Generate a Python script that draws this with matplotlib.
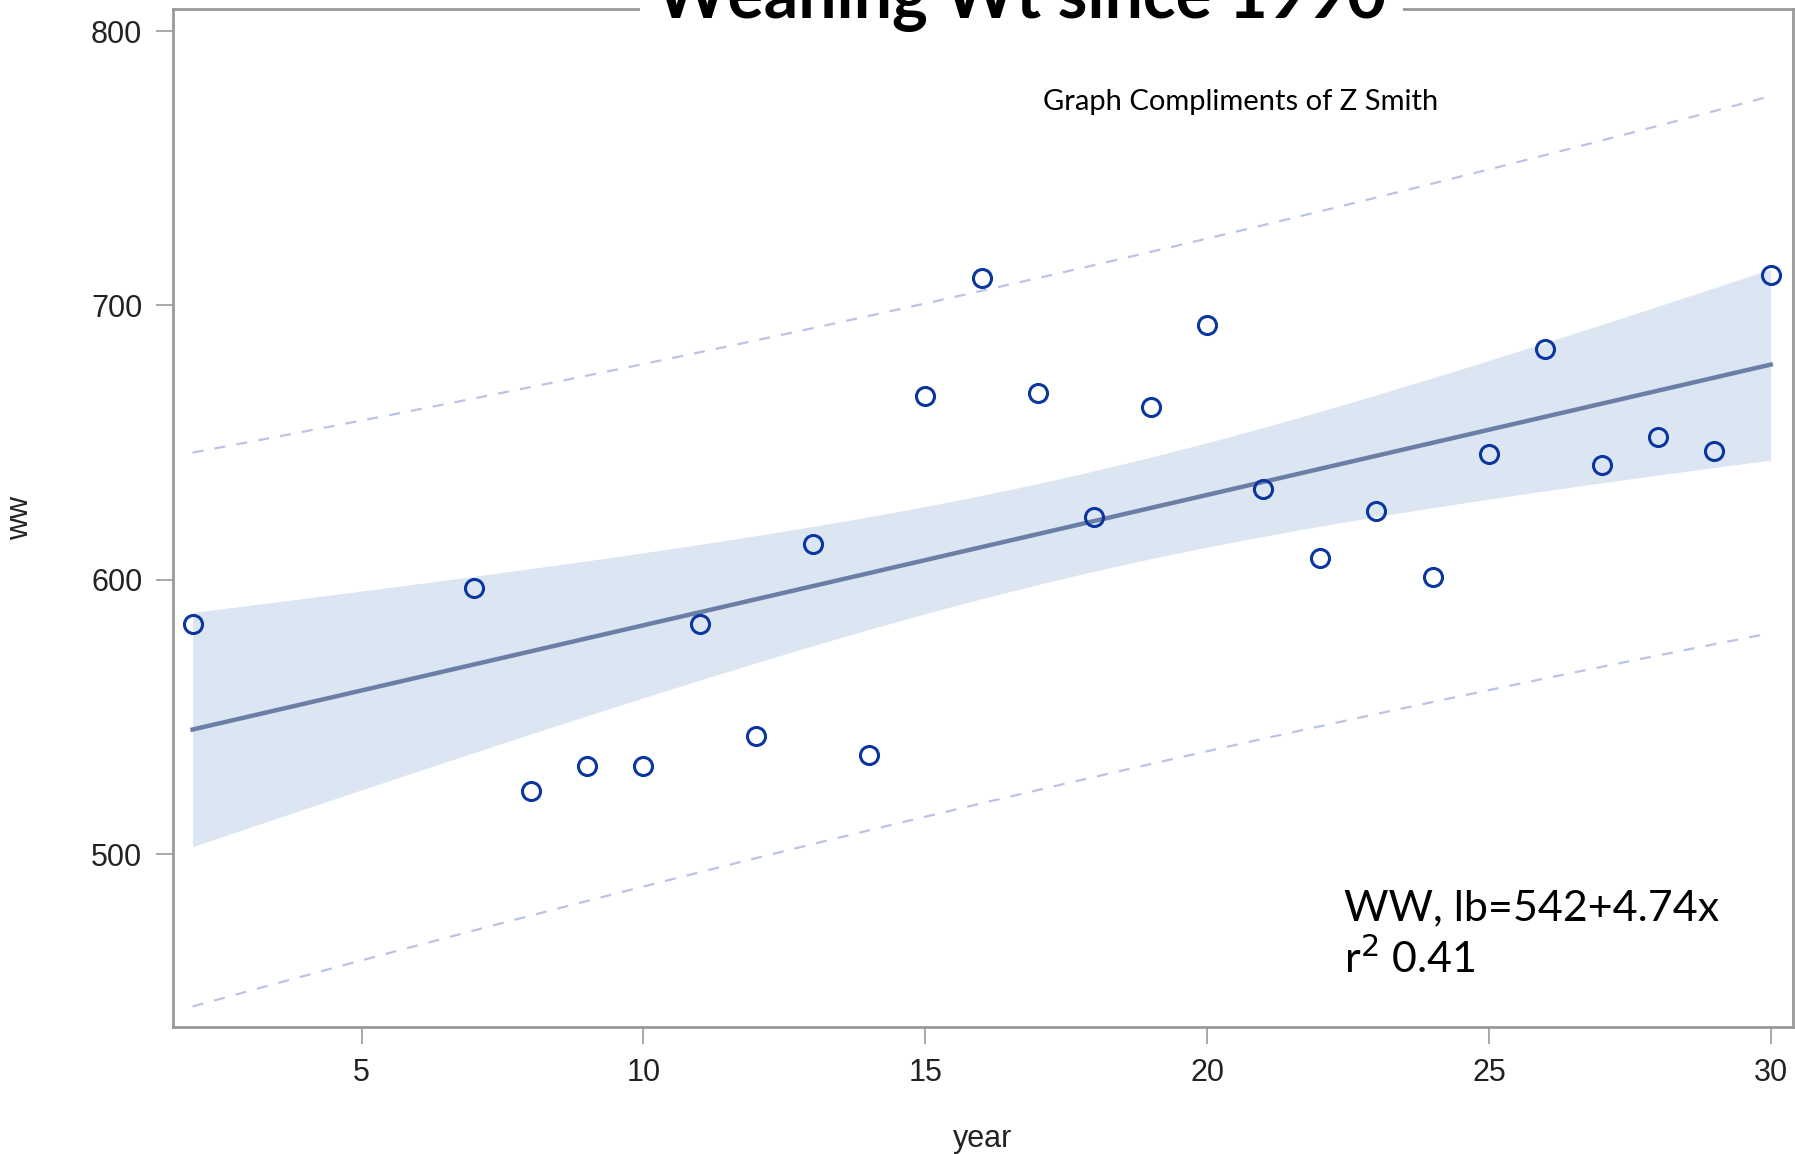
import numpy as np
import matplotlib.pyplot as plt

# weaning weight by year (year index 2..30)
years = [2, 7, 8, 9, 10, 11, 12, 13, 14, 15, 16, 17, 18, 19, 20, 21, 22, 23, 24, 25, 26, 27, 28, 29, 30]
ww = [584, 597, 523, 532, 532, 584, 543, 613, 536, 667, 710, 668, 623, 663, 693, 633, 608, 625, 601, 646, 684, 642, 652, 647, 711]

x_ticks = [5, 10, 15, 20, 25, 30]
y_ticks = [500, 600, 700, 800]


def fit_bands(x, y, xs):
    # simple linear fit with 95% confidence and prediction limits
    x = np.asarray(x, float)
    y = np.asarray(y, float)
    n = len(x)
    b, a = np.polyfit(x, y, 1)
    resid = y - (a + b * x)
    s = np.sqrt(np.sum(resid ** 2) / (n - 2))
    sxx = np.sum((x - x.mean()) ** 2)
    t = 2.069  # t(0.975, 23)
    yhat = a + b * xs
    se_fit = s * np.sqrt(1 / n + (xs - x.mean()) ** 2 / sxx)
    se_pred = s * np.sqrt(1 + 1 / n + (xs - x.mean()) ** 2 / sxx)
    return yhat, t * se_fit, t * se_pred


xs = np.linspace(min(years), max(years), 200)
yhat, ci, pi = fit_bands(years, ww, xs)

fig = plt.figure(figsize=(17.95, 11.54), dpi=100)
ax = fig.add_axes([0.0963, 0.1101, 0.9024, 0.8819])

ax.fill_between(xs, yhat - ci, yhat + ci, color='#dce5f2', lw=0, zorder=1)
ax.plot(xs, yhat, color='#6a7ea6', lw=3.2, zorder=2)
ax.plot(xs, yhat + pi, color='#bcc3e6', lw=1.6, ls=(0, (5, 5)), zorder=2)
ax.plot(xs, yhat - pi, color='#bcc3e6', lw=1.6, ls=(0, (5, 5)), zorder=2)
ax.plot(years, ww, 'o', mfc='none', mec='#0a36a0', ms=13, mew=2.2, zorder=3)

ax.set_xlim(1.65, 30.39)
ax.set_ylim(437, 808)
ax.set_xticks(x_ticks)
ax.set_yticks(y_ticks)

for sp in ax.spines.values():
    sp.set_color('#999999')
    sp.set_linewidth(2)
ax.tick_params(length=12, width=1.2, color='#999999', labelsize=22,
               labelcolor='#222222', pad=10)
for lbl in ax.get_xticklabels() + ax.get_yticklabels():
    lbl.set_family('Liberation Sans')

ax.set_xlabel('year', fontsize=22, family='Liberation Sans', color='#222222', labelpad=26)
ax.set_ylabel('ww', fontsize=22, family='Liberation Sans', color='#222222', labelpad=40)

fig.text(0.569, 0.984, 'Weaning Wt since 1990', ha='center', va='baseline',
         fontsize=49, fontweight='bold', family='Lato',
         bbox=dict(facecolor='white', edgecolor='none', pad=12))

fig.text(0.691, 0.912, 'Graph Compliments of Z Smith', ha='center', va='center',
         fontsize=21, family='Lato')

fig.text(0.749, 0.203, 'WW, lb=542+4.74x', ha='left', va='baseline',
         fontsize=31, family='Lato')
fig.text(0.749, 0.157, 'r$^2$ 0.41', ha='left', va='baseline',
         fontsize=31, family='Lato')

fig.savefig('out.png', dpi=100)
